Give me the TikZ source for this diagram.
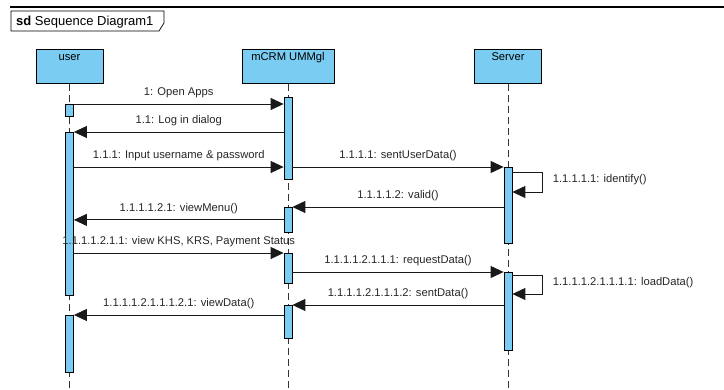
\documentclass[tikz,border=0pt]{standalone}
\usepackage{fontspec}
\setmainfont{Liberation Sans}
\usetikzlibrary{arrows.meta}
\definecolor{actblue}{RGB}{122,204,242}
\begin{document}
\begin{tikzpicture}[x=1pt, y=-1pt,
    every node/.style={font=\fontsize{11.2}{13}\selectfont},
    head/.style={draw, fill=actblue, line width=0.8pt, minimum width=67pt,
      text height=8pt, text depth=20pt, inner sep=3pt, anchor=north},
    act/.style={draw, fill=actblue, line width=0.8pt, minimum width=8pt,
      inner sep=0pt, anchor=north},
    life/.style={dash pattern=on 7pt off 4pt, line width=0.8pt, black!80},
    msg/.style={line width=0.9pt, black!90, -{Triangle[length=13pt, width=12pt]}},
    lbl/.style={midway, above=2pt, text height=8pt, text depth=2.5pt, text=black!85},
    slbl/.style={midway, anchor=west, inner sep=0pt, xshift=10pt, yshift=2pt, text=black!85}]

    \useasboundingbox (0,0) rectangle (724,390);

    % --- Frame ---
    \draw[line width=1.2pt] (10,7) -- (724,7);
    \draw[line width=0.7pt] (11,11) -- (164,11) -- (164,23) -- (159,31) -- (11,31) -- cycle;
    \node[anchor=base west, inner sep=0pt, font=\fontsize{13}{15}\selectfont]
      (title) at (16,26) {\textbf{sd} Sequence Diagram1};

    % --- Lifelines ---
    \coordinate (ground) at (0,390);
    \node[head] (user) at (69.5,49) {user};
    \node[head, minimum width=92pt] (crm) at (288,49) {mCRM UMMgl};
    \node[head] (server) at (508,49) {Server};
    \foreach \l in {user, crm, server}
      \draw[life] (\l.south) -- (\l.south |- ground);

    % --- Activations ---
    \node[act, minimum height=12pt] (a1) at (69.5,104) {};
    \node[act, minimum height=163pt] (a2) at (69.5,132) {};
    \node[act, minimum height=57pt] (a3) at (69.5,315) {};
    \node[act, minimum height=82pt] (b1) at (288,97) {};
    \node[act, minimum height=25pt] (b2) at (288,207) {};
    \node[act, minimum height=30pt] (b3) at (288,253) {};
    \node[act, minimum height=33pt] (b4) at (288,305) {};
    \node[act, minimum height=76pt] (c1) at (508,167) {};
    \node[act, minimum height=78pt] (c2) at (508,272) {};

    % --- Messages ---
    \draw[msg] (a1.north east) -- (a1.north east -| b1.west) node[lbl] {1: Open Apps};
    \draw[msg] (b1.west |- a2.north) -- (a2.north east) node[lbl] {1.1: Log in dialog};
    \draw[msg] (a2.east |- c1.north) -- (c1.north -| b1.west)
      node[lbl] {1.1.1: Input username \& password};
    \draw[msg] (b1.east |- c1.north) -- (c1.north west) node[lbl] {1.1.1.1: sentUserData()};
    \draw[msg] ([shift={(0,5)}]c1.north east) -- ++(30,0) -- ++(0,20)
      node[slbl] {1.1.1.1.1: identify()} -- ++(-30,0);
    \draw[msg] (c1.west |- b2.north) -- (b2.north east) node[lbl] {1.1.1.1.2: valid()};
    \draw[msg] (b2.west) -- (b2.west -| a2.east) node[lbl] {1.1.1.1.2.1: viewMenu()};
    \draw[msg] (a2.east |- b3.north) -- (b3.north west)
      node[lbl] {1.1.1.1.2.1.1: view KHS, KRS, Payment Status};
    \draw[msg] (b3.east |- c2.north) -- (c2.north west)
      node[lbl] {1.1.1.1.2.1.1.1: requestData()};
    \draw[msg] ([shift={(0,3)}]c2.north east) -- ++(30,0) -- ++(0,19)
      node[slbl] {1.1.1.1.2.1.1.1.1: loadData()} -- ++(-30,0);
    \draw[msg] (c2.west |- b4.north) -- (b4.north east)
      node[lbl] {1.1.1.1.2.1.1.1.2: sentData()};
    \draw[msg] (b4.west |- a3.north) -- (a3.north east)
      node[lbl] {1.1.1.1.2.1.1.1.2.1: viewData()};

\end{tikzpicture}
\end{document}
